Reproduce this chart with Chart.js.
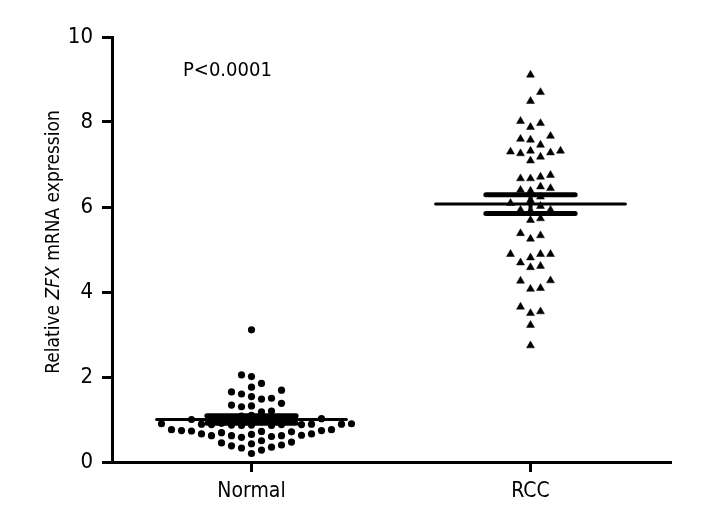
<!DOCTYPE html>
<html>
<head>
  <title>ZFX mRNA expression</title>
  <script src="https://cdn.jsdelivr.net/npm/chart.js"></script>
  <style>
    body { margin: 0; background: #fff; }
  </style>
</head>
<body>
  <canvas id="myChart" width="720" height="528"></canvas>

  <script>
    // data
    const groups = ['Normal', 'RCC'];
    const normalValues = [
      3.11, 2.05, 2.01, 1.85, 1.76, 1.69, 1.65, 1.60, 1.54, 1.50, 1.48, 1.38, 1.34,
      1.32, 1.30, 1.20, 1.18, 1.10, 1.08, 1.02, 1.00, 0.97, 0.95,
      0.91, 0.90, 0.90, 0.89, 0.89, 0.89, 0.88, 0.88, 0.88, 0.87, 0.87, 0.86, 0.86,
      0.76, 0.76, 0.74, 0.74, 0.73, 0.72, 0.71, 0.69, 0.66, 0.66, 0.65, 0.63,
      0.62, 0.62, 0.62, 0.60, 0.58,
      0.50, 0.47, 0.45, 0.43, 0.40, 0.38, 0.35, 0.33, 0.28, 0.20
    ];
    const rccValues = [
      9.11, 8.70, 8.49, 8.02, 7.97, 7.88, 7.67, 7.60, 7.58, 7.46,
      7.32, 7.32, 7.30, 7.28, 7.26, 7.18, 7.09, 6.75, 6.71, 6.67,
      6.67, 6.48, 6.44, 6.40, 6.38, 6.24, 6.16, 6.09, 6.02, 5.93,
      5.93, 5.91, 5.73, 5.69, 5.38, 5.33, 5.25, 4.89, 4.89, 4.89,
      4.81, 4.69, 4.61, 4.58, 4.27, 4.26, 4.09, 4.07, 3.65, 3.54,
      3.50, 3.22, 2.74
    ];
    const groupMeans = [1.00, 6.07];
    const groupSems = [0.09, 0.22];
    const yTicks = [0, 2, 4, 6, 8, 10];
    const pText = 'P<0.0001';

    const FONT = '"Liberation Sans Narrow", "DejaVu Sans Condensed", "Roboto", sans-serif';

    // spread points sideways so they don't overlap (like a dot plot)
    function swarm(values, center, xStep, minGap) {
      const placed = [];
      const out = new Array(values.length);
      const order = values.map((v, i) => i).sort((a, b) => values[a] - values[b]);
      order.forEach(i => {
        const v = values[i];
        for (let k = 0; k < 60; k++) {
          const slot = k === 0 ? 0 : (k % 2 ? (k + 1) / 2 : -k / 2);
          const hit = placed.some(p => p.slot === slot && Math.abs(p.v - v) < minGap);
          if (!hit) {
            placed.push({ slot, v });
            out[i] = { x: center + slot * xStep, y: v };
            break;
          }
        }
      });
      return out;
    }

    function segment(x1, y1, x2, y2, width) {
      return {
        type: 'line',
        data: [{ x: x1, y: y1 }, { x: x2, y: y2 }],
        borderColor: '#000',
        borderWidth: width,
        borderCapStyle: 'round',
        pointRadius: 0,
        showLine: true,
        order: 0
      };
    }

    const summaryLines = [];
    groups.forEach((g, i) => {
      const c = i + 1, m = groupMeans[i], s = groupSems[i];
      summaryLines.push(segment(c - 0.34, m, c + 0.34, m, 3));
      summaryLines.push(segment(c - 0.16, m + s, c + 0.16, m + s, 5));
      summaryLines.push(segment(c - 0.16, m - s, c + 0.16, m - s, 5));
      summaryLines.push(segment(c, m - s, c, m + s, 4));
    });

    const textPlugin = {
      id: 'texts',
      afterDraw(chart) {
        const ctx = chart.ctx;
        ctx.save();
        ctx.fillStyle = '#000';
        ctx.textBaseline = 'middle';
        ctx.font = '20px ' + FONT;
        ctx.fillText(pText, 183, 71);

        // y title with italic gene name
        const parts = [
          ['Relative ', ''],
          ['ZFX', 'italic '],
          [' mRNA expression', '']
        ];
        let total = 0;
        parts.forEach(p => { ctx.font = p[1] + '19px ' + FONT; total += ctx.measureText(p[0]).width; });
        ctx.translate(54, 242);
        ctx.rotate(-Math.PI / 2);
        let x = -total / 2;
        ctx.textAlign = 'left';
        parts.forEach(p => {
          ctx.font = p[1] + '19px ' + FONT;
          ctx.fillText(p[0], x, 0);
          x += ctx.measureText(p[0]).width;
        });
        ctx.restore();
      }
    };

    const ctx = document.getElementById('myChart').getContext('2d');
    const chart = new Chart(ctx, {
      type: 'scatter',
      data: {
        datasets: [
          {
            label: groups[0],
            data: normalValues.map(v => ({ x: 1, y: v })),
            pointStyle: 'circle',
            pointRadius: 3.6,
            backgroundColor: '#000',
            borderColor: '#000',
            borderWidth: 0,
            order: 1
          },
          {
            label: groups[1],
            data: rccValues.map(v => ({ x: 2, y: v })),
            pointStyle: 'triangle',
            pointRadius: 4.6,
            backgroundColor: '#000',
            borderColor: '#000',
            borderWidth: 0.5,
            order: 1
          },
          ...summaryLines
        ]
      },
      options: {
        responsive: false,
        animation: false,
        layout: { padding: { top: 37, right: 50, left: 0, bottom: 0 } },
        plugins: { legend: { display: false }, tooltip: { enabled: false } },
        scales: {
          x: {
            type: 'linear',
            min: 0.5,
            max: 2.5,
            afterBuildTicks: s => { s.ticks = [{ value: 1 }, { value: 2 }]; },
            afterFit: s => { s.height = 66; },
            grid: { drawOnChartArea: false, drawTicks: true, tickLength: 10, color: '#000', lineWidth: 3 },
            border: { color: '#000', width: 3 },
            ticks: {
              color: '#000',
              padding: 7,
              font: { family: FONT, size: 21 },
              callback: v => groups[v - 1]
            }
          },
          y: {
            min: 0,
            max: 10,
            afterBuildTicks: s => { s.ticks = yTicks.map(v => ({ value: v })); },
            afterFit: s => { s.width = 112; },
            grid: { drawOnChartArea: false, drawTicks: true, tickLength: 10, color: '#000', lineWidth: 3 },
            border: { color: '#000', width: 3 },
            ticks: {
              color: '#000',
              padding: 9,
              font: { family: FONT, size: 22 }
            }
          }
        }
      },
      plugins: [textPlugin]
    });

    // now that scales exist, work out sideways offsets in axis units
    const xs = chart.scales.x, ys = chart.scales.y;
    const pxX = xs.getPixelForValue(2) - xs.getPixelForValue(1);
    const pxY = ys.getPixelForValue(0) - ys.getPixelForValue(1);
    chart.data.datasets[0].data = swarm(normalValues, 1, 10 / pxX, 9 / pxY);
    chart.data.datasets[1].data = swarm(rccValues, 2, 10 / pxX, 9 / pxY);
    chart.update('none');
  </script>
</body>
</html>
